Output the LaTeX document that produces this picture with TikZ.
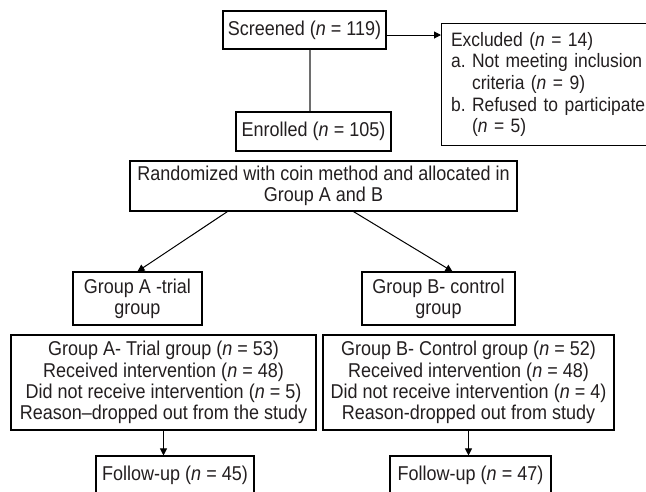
\documentclass[tikz,border=0pt]{standalone}
\usepackage{fontspec}
\setmainfont[FakeStretch=0.9]{Liberation Sans}
\usetikzlibrary{arrows.meta}
\definecolor{txt}{RGB}{35,31,32}
\definecolor{lgray}{RGB}{110,110,110}
\frenchspacing
\begin{document}
\begin{tikzpicture}[x=1pt,y=-1pt,
  box/.style={draw=black, line width=1.1pt, inner sep=0pt, align=center,
    text=txt, font=\fontsize{20}{21.3}\selectfont\frenchspacing},
  arr/.style={line width=1pt, -{Triangle[length=7pt,width=7pt]}},
  ]
\path[use as bounding box, clip] (0,0) rectangle (646,491);
\fill[white] (0,0) rectangle (646,491);

\node[box, minimum width=163pt, minimum height=38pt] (scr) at (304.5,30) {Screened (\textit{n} = 119)};
\node[box, anchor=north west, minimum width=240pt, minimum height=122pt, align=left,
  text width=225pt, inner xsep=9.5pt, font=\fontsize{19.4}{21.7}\selectfont\frenchspacing] (exc) at (441,23)
  {Excluded (\textit{n} = 14)\\
   a.\ Not meeting inclusion\\
   \hphantom{a.\ }criteria (\textit{n} = 9)\\
   b.\ Refused to participate\\
   \hphantom{b.\ }(\textit{n} = 5)};
\node[box, minimum width=155pt, minimum height=39pt] (enr) at (313.5,131.5) {Enrolled (\textit{n} = 105)};
\node[box, minimum width=387pt, minimum height=50pt] (rnd) at (323.5,186)
  {Randomized with coin method and allocated in\\Group A and B};
\node[box, minimum width=129pt, minimum height=53pt] (ga) at (137.5,298.5) {Group A -trial\\group};
\node[box, minimum width=153pt, minimum height=53pt] (gb) at (438.5,298.5) {Group B- control\\group};
\node[box, minimum width=305pt, minimum height=95pt] (la) at (163.5,382.5)
  {Group A- Trial group (\textit{n} = 53)\\
   Received intervention (\textit{n} = 48)\\
   Did not receive intervention (\textit{n} = 5)\\
   Reason–dropped out from the study};
\node[box, minimum width=291pt, minimum height=95pt] (lb) at (468.5,382.5)
  {Group B- Control group (\textit{n} = 52)\\
   Received intervention (\textit{n} = 48)\\
   Did not receive intervention (\textit{n} = 4)\\
   Reason-dropped out from study};
\node[box, minimum width=158pt, minimum height=38pt] (fa) at (175,475) {Follow-up (\textit{n} = 45)};
\node[box, minimum width=161pt, minimum height=38pt] (fb) at (470.5,475) {Follow-up (\textit{n} = 47)};

\coordinate (lx) at (310,0);
\coordinate (ay) at (0,35);
\draw[lgray, line width=1.1pt] (scr.south -| lx) -- (enr.north -| lx);
\draw[arr] (scr.east |- ay) -- (exc.west |- ay);
\draw[arr] ([xshift=98pt]rnd.south west) -- ([xshift=65pt]ga.north west);
\draw[arr] ([xshift=224pt]rnd.south west) -- ([xshift=91pt]gb.north west);
\draw[arr] (la.south) -- (la.south |- fa.north);
\draw[arr] (lb.south) -- (lb.south |- fb.north);
\end{tikzpicture}
\end{document}
